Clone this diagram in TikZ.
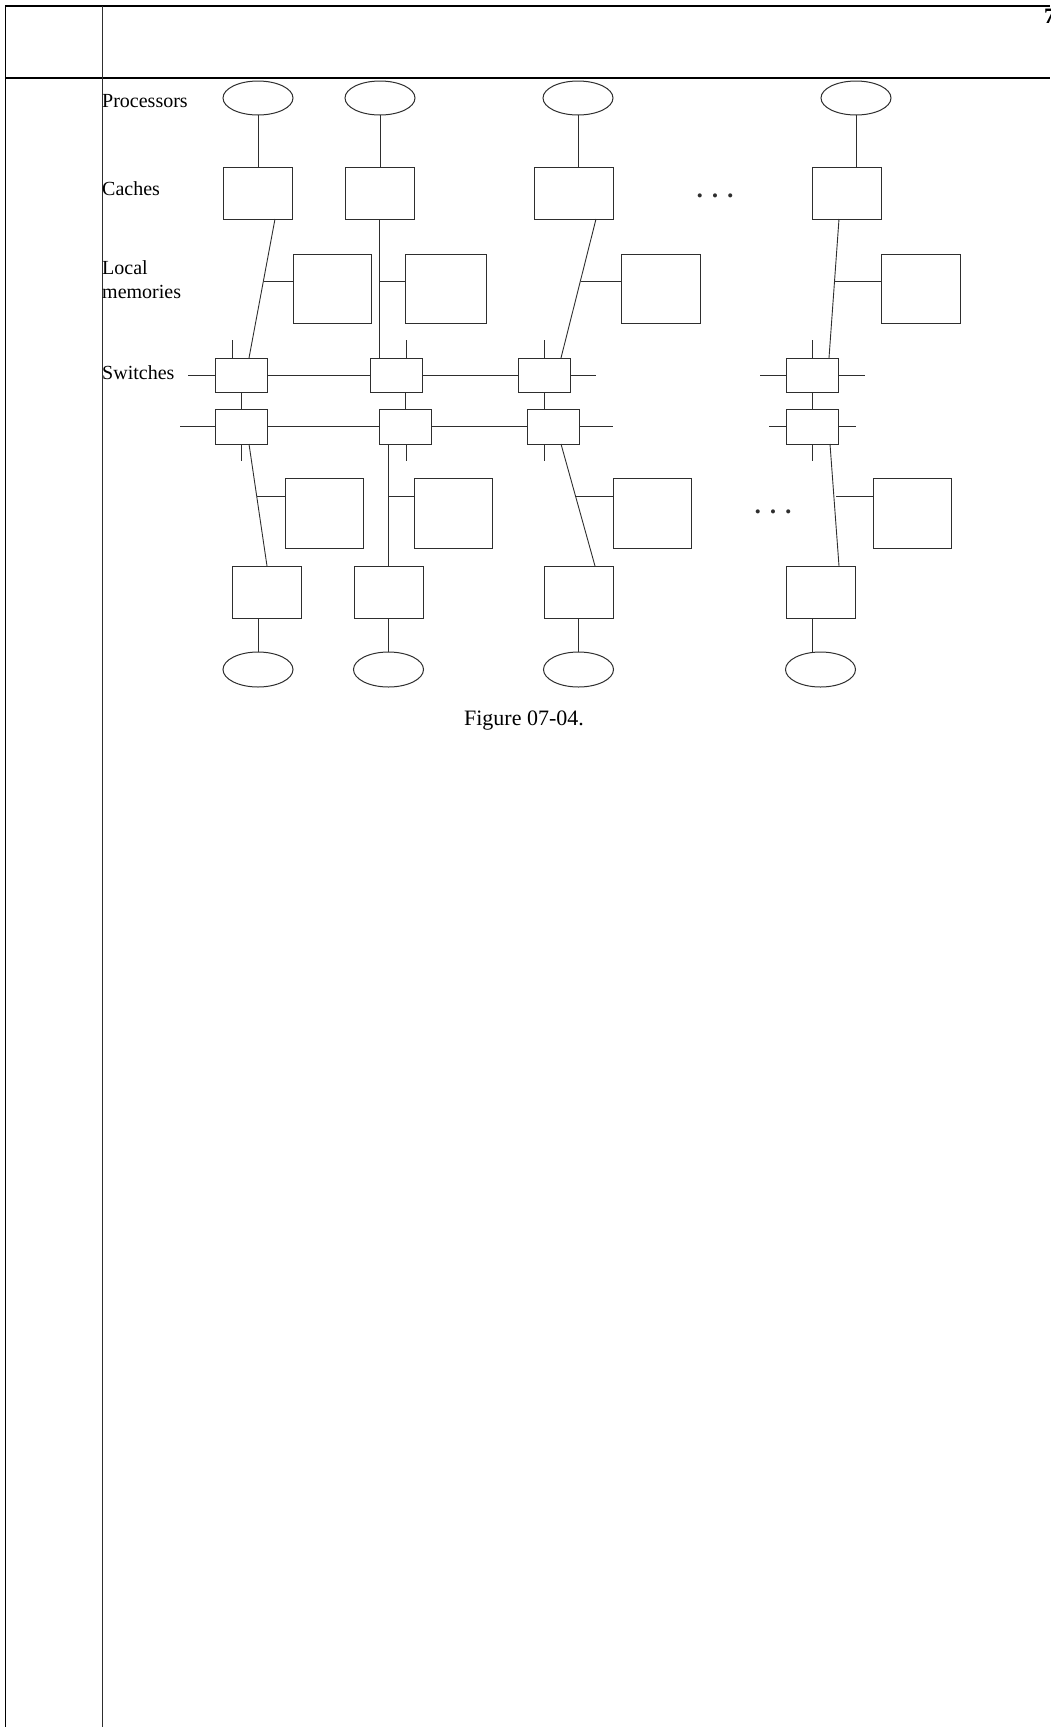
\documentclass[tikz,border=0pt]{standalone}
\usepackage{fontspec}
\setmainfont{Liberation Serif}
\usepackage{tikz}
\usetikzlibrary{calc,shapes.geometric}
\definecolor{ink}{HTML}{2E2E2E}
\tikzset{
  lab/.style={text=black, font=\fontsize{20}{24}\selectfont, inner sep=0pt, anchor=base west},
  figcap/.style={text=black, font=\fontsize{22}{26}\selectfont, inner sep=0pt, anchor=base},
  dotrow/.style={text=ink, font=\fontsize{17}{20}\selectfont, inner sep=0pt, anchor=base},
  wire/.style={line width=0.9pt, draw=ink},
  frame/.style={line width=1.1pt, draw=black},
  unit/.style={draw=ink, line width=1pt, inner sep=0pt, outer sep=0pt},
  proc/.style={unit, ellipse, minimum width=70pt, minimum height=34pt},
  cachebox/.style={unit, rectangle, minimum width=69pt, minimum height=52pt},
  membox/.style={unit, rectangle, minimum width=79pt, minimum height=69pt},
  swbox/.style={unit, rectangle, minimum width=52pt, minimum height=34pt}
}

\begin{document}
\begin{tikzpicture}[x=1pt,y=-1pt]
\useasboundingbox (0,0) rectangle (1050,1727);
% page frame
\draw[frame] (1050,6) -- (5.5,6) -- (5.5,1727);
\draw[frame] (5.5,78) -- (1050,78);
\draw[wire] (102,6) -- (102,1727);
\node[font=\bfseries\fontsize{22}{26}\selectfont, inner sep=0pt, anchor=base west] (pg) at (1044,23) {7};

% row labels
\node[lab] (lproc) at (102,107) {Processors};
\node[lab] (lcache) at (102,195) {Caches};
\node[lab] (lmemA) at (102,274) {Local};
\node[lab] (lmemB) at (102,298) {memories};
\node[lab] (lsw) at (102,379) {Switches};

% upper processors and caches
\node[proc] (p1) at (258,98) {};
\node[proc] (p2) at (380,98) {};
\node[proc] (p3) at (578,98) {};
\node[proc] (p4) at (856,98) {};
\node[cachebox] (c1) at (258,193) {};
\node[cachebox] (c2) at (379.5,193) {};
\node[cachebox, minimum width=79pt] (c3) at (573.5,193) {};
\node[cachebox] (c4) at (846.5,193) {};
\foreach \i in {1,...,4}
  \draw[wire] (p\i.south) -- (p\i.south |- c\i.north);
\node[dotrow] (dotsU) at (715,201.5) {\textbullet\hspace{9.3pt}\textbullet\hspace{9.3pt}\textbullet};

% upper local memories
\node[membox, minimum width=78pt] (m1) at (332,288.5) {};
\node[membox, minimum width=81pt] (m2) at (445.5,288.5) {};
\node[membox] (m3) at (660.5,288.5) {};
\node[membox] (m4) at (920.5,288.5) {};

% switches
\node[swbox] (s1) at (241,375) {};
\node[swbox] (s2) at (396,375) {};
\node[swbox] (s3) at (544,375) {};
\node[swbox] (s4) at (812,375) {};
\node[swbox, minimum height=35pt] (t1) at (241,426.5) {};
\node[swbox, minimum height=35pt] (t2) at (405,426.5) {};
\node[swbox, minimum height=35pt] (t3) at (553,426.5) {};
\node[swbox, minimum height=35pt] (t4) at (812,426.5) {};

% caches down to switches
\draw[wire] ($(c1.south)+(17,0)$) -- ($(s1.north)+(8,0)$);
\draw[wire] (c2.south) -- (c2.south |- s2.north);
\draw[wire] ($(c3.south)+(22.5,0)$) -- ($(s3.north)+(17,0)$);
\draw[wire] ($(c4.south)+(-7.5,0)$) -- ($(s4.north)+(17,0)$);
\coordinate (ju1) at (264,281);
\coordinate (ju2) at (379.5,281);
\coordinate (ju3) at (580.5,281);
\coordinate (ju4) at (834.5,281);
\foreach \i in {1,...,4}
  \draw[wire] (ju\i) -- (ju\i -| m\i.west);

% switch links
\foreach \n/\dx in {s1/-9,s2/10,s3/0,s4/0}
  \draw[wire] ($(\n.north)+(\dx,0)$) -- ++(0,-18);
\foreach \n/\dx in {t1/0,t2/1,t3/-9,t4/0}
  \draw[wire] ($(\n.south)+(\dx,0)$) -- ++(0,17);
\draw[wire] (s1.south) -- (t1.north);
\draw[wire] ($(s2.south)+(9,0)$) -- (t2.north);
\draw[wire] (s3.south) -- ($(t3.north)+(-9,0)$);
\draw[wire] (s4.south) -- (t4.north);
\draw[wire] (s1.west) -- ++(-27,0);
\draw[wire] (s1) -- (s2);
\draw[wire] (s2) -- (s3);
\draw[wire] (s3.east) -- ++(26,0);
\draw[wire] (s4.west) -- ++(-26,0);
\draw[wire] (s4.east) -- ++(27,0);
\draw[wire] (t1.west) -- ++(-35,0);
\draw[wire] (t1) -- (t2);
\draw[wire] (t2) -- (t3);
\draw[wire] (t3.east) -- ++(34,0);
\draw[wire] (t4.west) -- ++(-17,0);
\draw[wire] (t4.east) -- ++(18,0);

% lower local memories, caches and processors
\node[membox, minimum width=78pt, minimum height=70pt] (n1) at (324,513) {};
\node[membox, minimum width=78pt, minimum height=70pt] (n2) at (453,513) {};
\node[membox, minimum width=78pt, minimum height=70pt] (n3) at (652,513) {};
\node[membox, minimum width=78pt, minimum height=70pt] (n4) at (912,513) {};
\node[cachebox] (d1) at (266.5,592) {};
\node[cachebox] (d2) at (388.5,592) {};
\node[cachebox] (d3) at (578.5,592) {};
\node[cachebox] (d4) at (820.5,592) {};
\node[proc, minimum height=35pt] (q1) at (258,669.5) {};
\node[proc, minimum height=35pt] (q2) at (388.5,669.5) {};
\node[proc, minimum height=35pt] (q3) at (578.5,669.5) {};
\node[proc, minimum height=35pt] (q4) at (820.5,669.5) {};
\node[dotrow] (dotsL) at (773,517.5) {\textbullet\hspace{9.3pt}\textbullet\hspace{9.3pt}\textbullet};

% switches down to caches
\draw[wire] ($(t1.south)+(8,0)$) -- ($(d1.north)+(0.5,0)$);
\draw[wire] ($(t2.south)+(-17,0)$) -- ($(d2.north)+(-0.5,0)$);
\draw[wire] ($(t3.south)+(8,0)$) -- ($(d3.north)+(16.5,0)$);
\draw[wire] ($(t4.south)+(18,0)$) -- ($(d4.north)+(18.5,0)$);
\coordinate (jl1) at (257,496);
\coordinate (jl2) at (388,496);
\coordinate (jl3) at (575.5,496);
\coordinate (jl4) at (836,496);
\foreach \i in {1,...,4}
  \draw[wire] (jl\i) -- (jl\i -| n\i.west);
\draw[wire] ($(d1.south)+(-8.5,0)$) -- (q1.north);
\draw[wire] ($(d2.south)+(-0.5,0)$) -- ($(q2.north)+(-0.5,0)$);
\draw[wire] (d3.south) -- (q3.north);
\draw[wire] ($(d4.south)+(-8.5,0)$) -- ($(q4.north)+(-8.5,0)$);

% caption
\node[figcap] (fig) at (524,725) {Figure 07-04.};
\end{tikzpicture}
\end{document}
